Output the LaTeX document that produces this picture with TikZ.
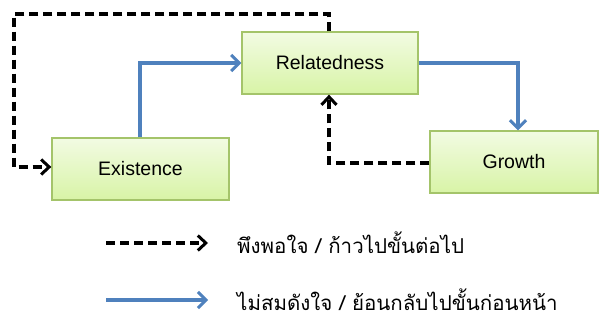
\documentclass[tikz,border=0pt]{standalone}
\usepackage{fontspec}
\setmainfont{Liberation Sans}
\newfontfamily\thaifont[Script=Thai]{Loma}
\usetikzlibrary{arrows.meta,calc}
\definecolor{boxborder}{HTML}{A4C46A}
\definecolor{boxtop}{HTML}{F2FBE3}
\definecolor{boxbot}{HTML}{D8F4A6}
\definecolor{blueline}{HTML}{4F81BD}
\begin{document}
\begin{tikzpicture}[x=1pt,y=-1pt,
  stage/.style={draw=boxborder, line width=1.3pt, top color=boxtop, bottom color=boxbot,
     minimum width=#1, minimum height=62pt, inner sep=0pt, font=\fontsize{19.5}{21}\selectfont},
  dashline/.style={draw=black, line width=3.2pt, dash pattern=on 9pt off 5pt,
     -{Straight Barb[length=8pt,width=15pt,line width=3pt]}},
  blueline/.style={draw=blueline, line width=3.2pt,
     -{Straight Barb[length=8pt,width=16pt,line width=3pt]}},
  legendtext/.style={anchor=west, inner sep=0pt, font=\thaifont\fontsize{20.5}{24}\selectfont}
]
\useasboundingbox (0,0) rectangle (599,320);
\node[stage=177pt] (ex) at (140.5,169) {Existence};
\node[stage=176pt] (rel) at (330,63) {Relatedness};
\node[stage=168pt] (gr) at (514,162) {Growth};

\coordinate (c1) at (329,14);
\coordinate (c2) at (14,14);
\coordinate (c3) at (14,167);
\coordinate (c4) at (140,63);
\coordinate (c5) at (518,63);
\coordinate (c6) at (329,163);

% dashed feedback from Relatedness to Existence
\draw[dashline] (c1 |- rel.north) -- (c1) -- (c2) -- (c3) -- (c3 -| ex.west);
% blue from Existence to Relatedness
\draw[blueline] (c4 |- ex.north) -- (c4) -- (c4 -| rel.west);
% blue from Relatedness to Growth
\draw[blueline] (c5 -| rel.east) -- (c5) -- (c5 |- gr.north);
% dashed from Growth to Relatedness
\draw[dashline] (c6 -| gr.west) -- (c6) -- (c6 |- rel.south);

% legend
\coordinate (l1s) at (106,243);
\coordinate (l1e) at (208,243);
\coordinate (l2s) at (106,300);
\coordinate (l2e) at (208,300);
\draw[dashline] (l1s) -- (l1e);
\draw[blueline] (l2s) -- (l2e);
\node[legendtext] (t1) at (237,243) {พึงพอใจ / ก้าวไปขั้นต่อไป};
\node[legendtext] (t2) at (237,300) {ไม่สมดังใจ / ย้อนกลับไปขั้นก่อนหน้า};
\end{tikzpicture}
\end{document}
